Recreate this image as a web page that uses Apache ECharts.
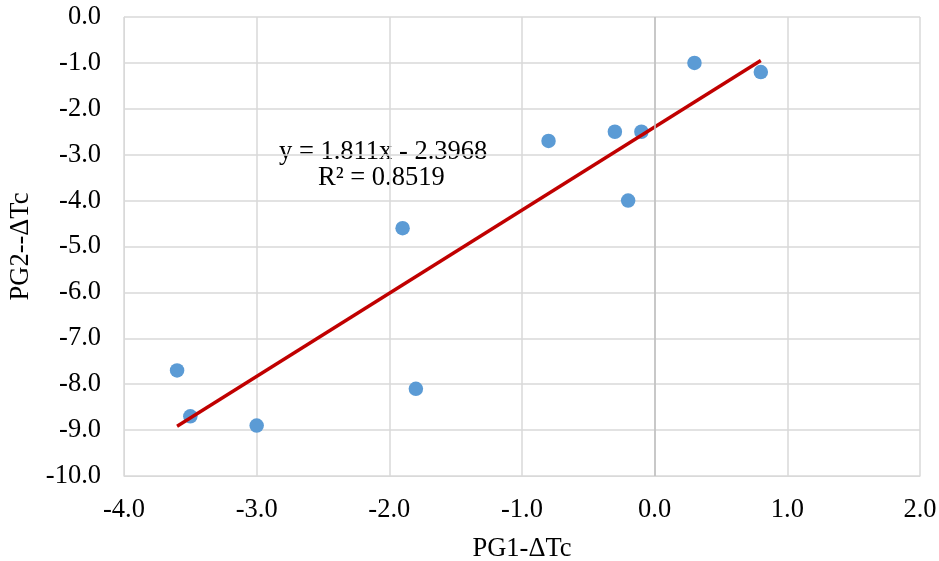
<!DOCTYPE html>
<html>
<head>
<meta charset="utf-8">
<script src="https://cdn.jsdelivr.net/npm/echarts@6/dist/echarts.min.js"></script>
<style>html,body{margin:0;padding:0;background:#fff}#c{width:939px;height:561px}</style>
</head>
<body>
<div id="c"></div>
<script>
var xValues = [-3.6, -3.5, -3.0, -1.8, -1.9, -0.8, -0.3, -0.1, -0.2, 0.3, 0.8];
var yValues = [-7.7, -8.7, -8.9, -8.1, -4.6, -2.7, -2.5, -2.5, -4.0, -1.0, -1.2];
var trendSlope = 1.811;
var trendIntercept = -2.3968;
var equationText = 'y = 1.811x - 2.3968';
var r2Text = 'R² = 0.8519';
var xAxisTitle = 'PG1-ΔTc';
var yAxisTitle = 'PG2--ΔTc';

var points = xValues.map(function (x, i) { return [x, yValues[i]]; });
var xmin = Math.min.apply(null, xValues), xmax = Math.max.apply(null, xValues);
var trend = [[xmin, trendSlope * xmin + trendIntercept], [xmax, trendSlope * xmax + trendIntercept]];

var font = '"Liberation Serif", "Times New Roman", serif';
var fs = 26.5;
var chart = echarts.init(document.getElementById('c'));
chart.setOption({
  animation: false,
  backgroundColor: '#fff',
  grid: { left: 124, top: 17, right: 19, bottom: 85, containLabel: false, outerBoundsMode: 'none' },
  xAxis: {
    type: 'value', min: -4, max: 2, interval: 1,
    name: xAxisTitle, nameLocation: 'middle', nameGap: 60,
    nameTextStyle: { fontFamily: font, fontSize: fs, color: '#000' },
    axisLabel: { fontFamily: font, fontSize: fs, color: '#000', margin: 21,
      formatter: function (v) { return v.toFixed(1); } },
    axisLine: { show: true, onZero: false, lineStyle: { color: '#d9d9d9' } },
    axisTick: { show: false },
    splitLine: { show: true, lineStyle: { color: '#d9d9d9', width: 1.5 } }
  },
  yAxis: {
    type: 'value', min: -10, max: 0, interval: 1,
    name: yAxisTitle, nameLocation: 'middle', nameGap: 76, nameRotate: 90,
    nameTextStyle: { fontFamily: font, fontSize: fs, color: '#000' },
    axisLabel: { fontFamily: font, fontSize: fs, color: '#000', margin: 23,
      formatter: function (v) { return v.toFixed(1); } },
    axisLine: { show: true, onZero: false, lineStyle: { color: '#d9d9d9' } },
    axisTick: { show: false },
    splitLine: { show: true, lineStyle: { color: '#d9d9d9', width: 1.5 } }
  },
  series: [
    {
      type: 'line', data: trend, symbol: 'none', z: 3,
      lineStyle: { color: '#c00000', width: 3.4 },
      markLine: {
        silent: true, symbol: 'none', label: { show: false },
        lineStyle: { color: '#bfbfbf', type: 'solid', width: 1.5 },
        data: [{ xAxis: 0 }]
      }
    },
    {
      type: 'scatter', data: points, symbolSize: 14.5, z: 2,
      itemStyle: { color: '#5b9bd5', opacity: 1 }
    }
  ],
  graphic: [
    { type: 'text', left: 279, top: 139, style: { text: equationText, font: fs + 'px ' + font, fill: '#000' } },
    { type: 'text', left: 318, top: 165, style: { text: r2Text, font: fs + 'px ' + font, fill: '#000' } }
  ]
});
</script>
</body>
</html>
